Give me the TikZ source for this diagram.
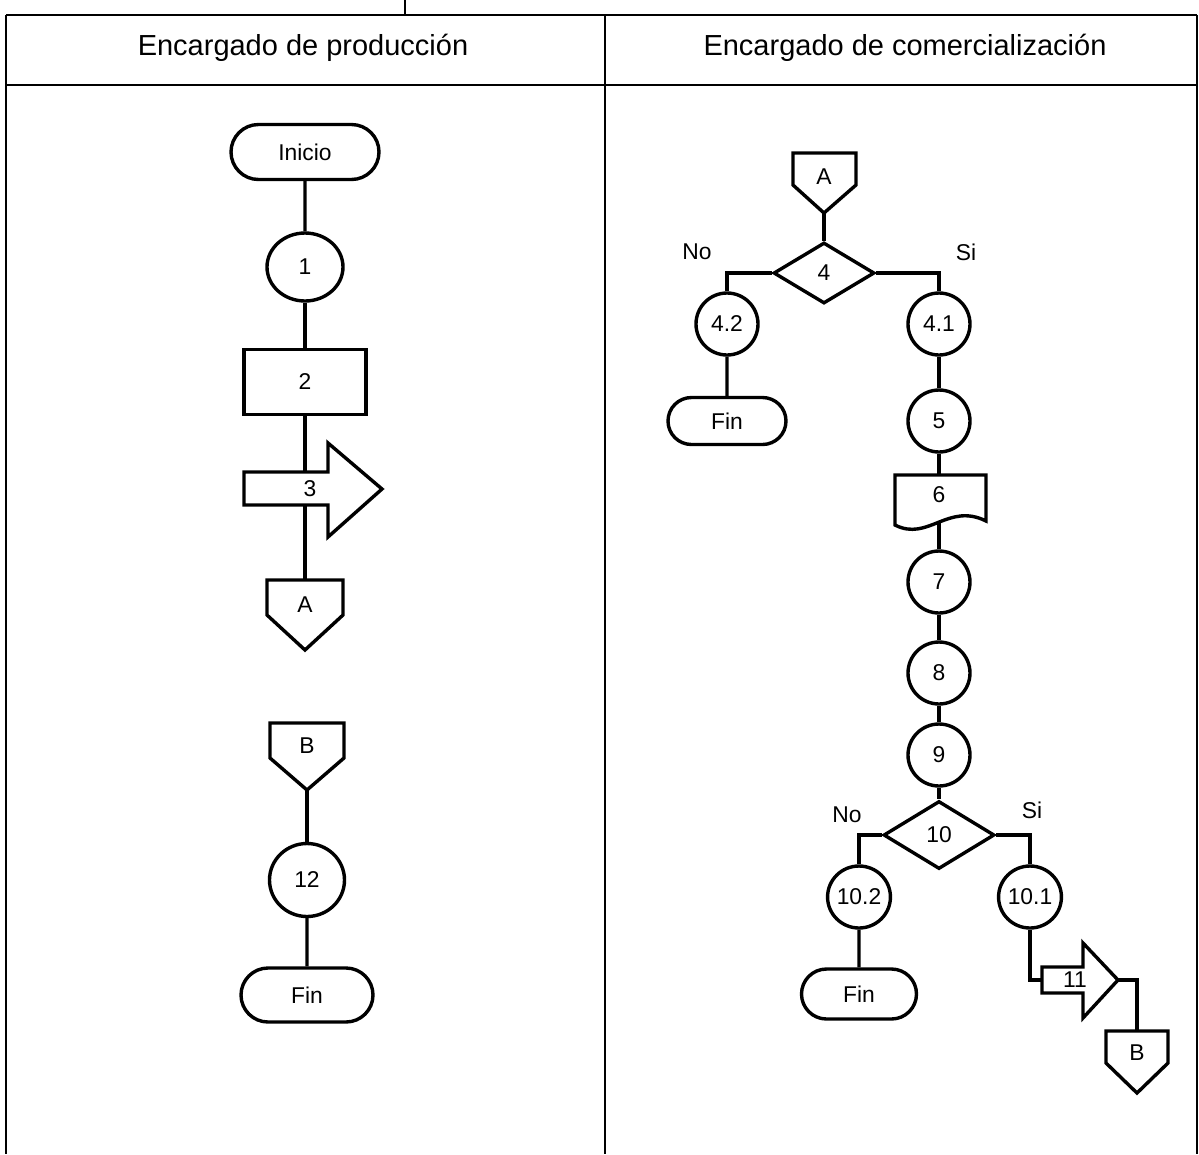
\documentclass[tikz,border=0pt]{standalone}
\usepackage{fontspec}
\setmainfont{Liberation Sans}
\usetikzlibrary{shapes.geometric,shapes.misc}

\newlength{\du}
\setlength{\du}{0.2mm}

\tikzset{
  fig/.style={line width=3.4\du, line join=miter},
  lane/.style={line width=1.6\du},
  lbl/.style={font=\fontsize{13}{15}\selectfont, inner sep=0pt},
  head/.style={font=\fontsize{16.5}{20}\selectfont, inner sep=0pt},
  term/.style={fig, draw, lbl, rounded rectangle},
  proc/.style={fig, draw, lbl, ellipse, minimum width=62\du, minimum height=62\du},
  task/.style={fig, draw, lbl, rectangle},
  decide/.style={fig, draw, lbl, diamond},
}

\begin{document}
\begin{tikzpicture}
\pgftransformyscale{-1.000000}
\useasboundingbox (0\du,0\du) rectangle (1199\du,1154\du);

% table
\draw[lane] (6\du,15\du)--(1197\du,15\du);
\draw[lane] (6\du,85\du)--(1197\du,85\du);
\draw[lane] (6\du,15\du)--(6\du,1154\du);
\draw[lane] (605\du,15\du)--(605\du,1154\du);
\draw[lane] (1197\du,15\du)--(1197\du,1154\du);
\draw[lane] (405\du,0\du)--(405\du,15\du);
\node[head] (hprod) at (303\du,48\du){Encargado de producción};
\node[head] (hcom) at (905\du,48\du){Encargado de comercialización};

% produccion
\node[term, minimum width=148\du, minimum height=55\du] (ini) at (305\du,152\du){Inicio};
\node[proc, minimum width=76\du, minimum height=68\du] (p1) at (305\du,267\du){1};
\node[task, minimum width=122\du, minimum height=65\du] (t2) at (305\du,382\du){2};
\draw[fig] (244\du,472\du)--(328\du,472\du)--(328\du,443\du)--(382\du,489\du)--(328\du,537\du)--(328\du,505\du)--(244\du,505\du)--cycle;
\node[lbl] (m3) at (310\du,489\du){3};
\coordinate (m3in) at (305\du,472\du);
\coordinate (m3out) at (305\du,505\du);
\draw[fig] (267\du,580\du)--(343\du,580\du)--(343\du,615\du)--(305\du,650\du)--(267\du,615\du)--cycle;
\node[lbl] (ca1) at (305\du,605\du){A};
\coordinate (ca1in) at (305\du,580\du);
\draw[fig] (ini)--(p1);
\draw[fig] (p1)--(t2);
\draw[fig] (t2)--(m3in);
\draw[fig] (m3out)--(ca1in);

\draw[fig] (270\du,723\du)--(344\du,723\du)--(344\du,758\du)--(307\du,790\du)--(270\du,758\du)--cycle;
\node[lbl] (cb1) at (307\du,746\du){B};
\coordinate (cb1out) at (307\du,790\du);
\node[proc, minimum width=75\du, minimum height=73\du] (p12) at (307\du,880\du){12};
\node[term, minimum width=132\du, minimum height=54\du] (fin1) at (307\du,995\du){Fin};
\draw[fig] (cb1out)--(p12);
\draw[fig] (p12)--(fin1);

% comercializacion
\draw[fig] (793\du,153\du)--(856\du,153\du)--(856\du,185\du)--(824\du,213\du)--(793\du,185\du)--cycle;
\node[lbl] (ca2) at (824\du,177\du){A};
\coordinate (ca2out) at (824\du,213\du);
\node[decide, minimum width=101\du, minimum height=61\du] (d4) at (824\du,273\du){4};
\node[lbl] (no4) at (697\du,252\du){No};
\node[lbl] (si4) at (966\du,252\du){Si};
\node[proc] (p42) at (727\du,324\du){4.2};
\node[proc] (p41) at (939\du,324\du){4.1};
\node[term, minimum width=118\du, minimum height=47\du] (fin2) at (727\du,421\du){Fin};
\node[proc] (p5) at (939\du,421\du){5};
\draw[fig] (ca2out)--(d4);
\draw[fig] (d4.west) -| (p42);
\draw[fig] (d4.east) -| (p41);
\draw[fig] (p42)--(fin2);
\draw[fig] (p41)--(p5);

\draw[fig] (895\du,525\du)--(895\du,475\du)--(986\du,475\du)--(986\du,521\du) .. controls (948\du,502\du) and (928\du,542\du) .. (895\du,525\du)--cycle;
\node[lbl] (doc6) at (939\du,495\du){6};
\coordinate (doc6in) at (939\du,475\du);
\coordinate (doc6out) at (939\du,522\du);
\node[proc] (p7) at (939\du,582\du){7};
\node[proc] (p8) at (939\du,673\du){8};
\node[proc] (p9) at (939\du,755\du){9};
\draw[fig] (p5)--(doc6in);
\draw[fig] (doc6out)--(p7);
\draw[fig] (p7)--(p8);
\draw[fig] (p8)--(p9);

\node[decide, minimum width=111\du, minimum height=68\du] (d10) at (939\du,835\du){10};
\node[lbl] (no10) at (847\du,815\du){No};
\node[lbl] (si10) at (1032\du,810\du){Si};
\node[proc] (p102) at (859\du,897\du){10.2};
\node[proc] (p101) at (1030\du,897\du){10.1};
\node[term, minimum width=115\du, minimum height=50\du] (fin3) at (859\du,994\du){Fin};
\draw[fig] (p9)--(d10);
\draw[fig] (d10.west) -| (p102);
\draw[fig] (d10.east) -| (p101);
\draw[fig] (p102)--(fin3);

\draw[fig] (1042\du,967\du)--(1083\du,967\du)--(1083\du,943\du)--(1118\du,980\du)--(1083\du,1018\du)--(1083\du,993\du)--(1042\du,993\du)--cycle;
\node[lbl] (m11) at (1075\du,980\du){11};
\coordinate (m11in) at (1042\du,980\du);
\coordinate (m11tip) at (1118\du,980\du);
\draw[fig] (1106\du,1031\du)--(1168\du,1031\du)--(1168\du,1063\du)--(1137\du,1093\du)--(1106\du,1063\du)--cycle;
\node[lbl] (cb2) at (1137\du,1053\du){B};
\coordinate (cb2in) at (1137\du,1031\du);
\draw[fig] (p101) |- (m11in);
\draw[fig] (m11tip) -| (cb2in);
\end{tikzpicture}
\end{document}
